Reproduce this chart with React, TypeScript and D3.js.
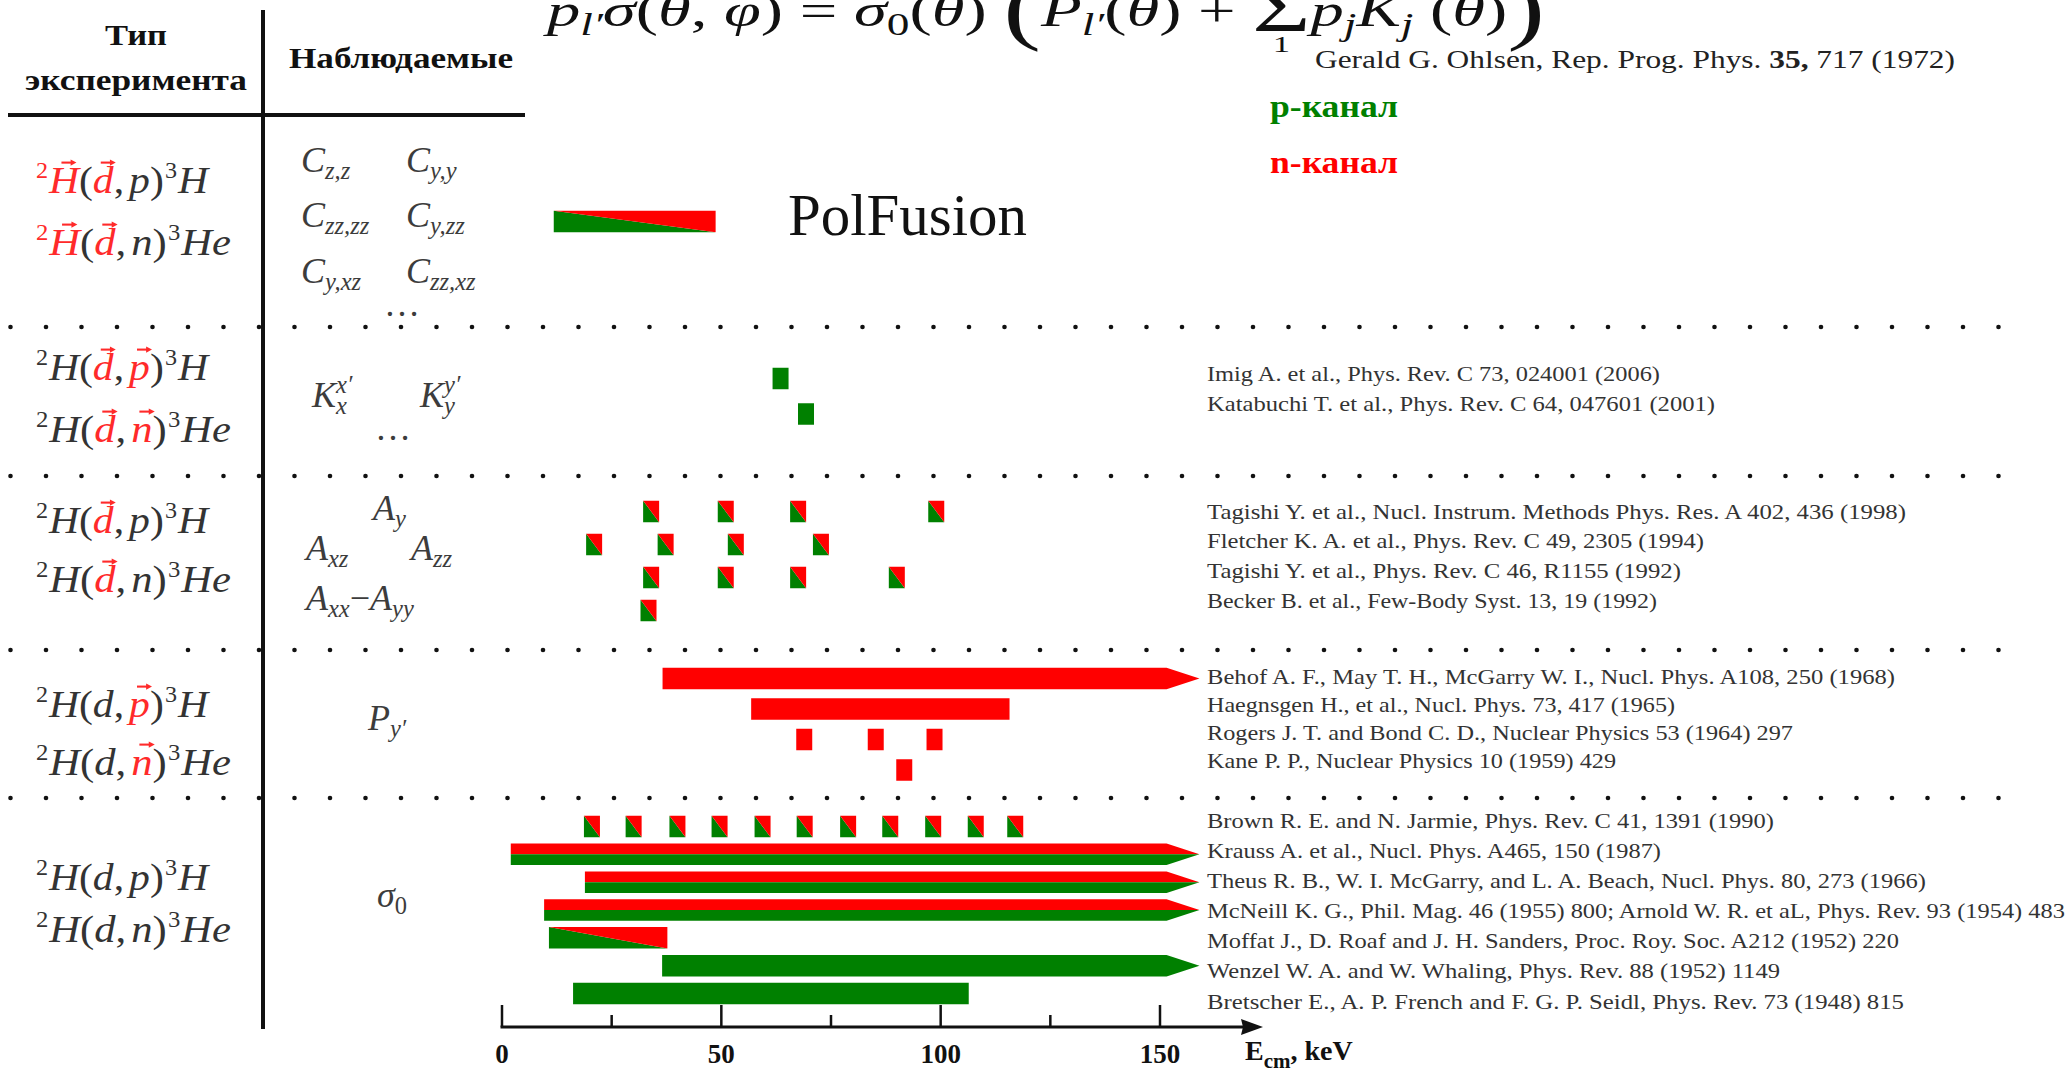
import React, { useEffect, useRef } from "react";
import * as d3 from "d3";

const W = 2068;
const H = 1068;
const SERIF = "'Liberation Serif', 'Times New Roman', Times, serif";
const GREEN = "#008000";
const RED = "#ff0000";
const INK = "#111111";
const GREY = "#333333";
const F_RED = "#ff2a2a";

// ---------------- data ----------------
const AXIS_MAJOR_TICKS = [0, 50, 100, 150];
const AXIS_MINOR_TICKS = [25, 75, 125];

const REFS_K = [
  "Imig A. et al., Phys. Rev. C 73, 024001 (2006)",
  "Katabuchi T. et al., Phys. Rev. C 64, 047601 (2001)",
];
const REFS_A = [
  "Tagishi Y. et al., Nucl. Instrum. Methods Phys. Res. A 402, 436 (1998)",
  "Fletcher K. A. et al., Phys. Rev. C 49, 2305 (1994)",
  "Tagishi Y. et al., Phys. Rev. C 46, R1155 (1992)",
  "Becker B. et al., Few-Body Syst. 13, 19 (1992)",
];
const REFS_P = [
  "Behof A. F., May T. H., McGarry W. I., Nucl. Phys. A108, 250 (1968)",
  "Haegnsgen H., et al., Nucl. Phys. 73, 417 (1965)",
  "Rogers J. T. and Bond C. D., Nuclear Physics 53 (1964) 297",
  "Kane P. P., Nuclear Physics 10 (1959) 429",
];
const REFS_S = [
  "Brown R. E. and N. Jarmie, Phys. Rev. C 41, 1391 (1990)",
  "Krauss A. et al., Nucl. Phys. A465, 150 (1987)",
  "Theus R. B., W. I. McGarry, and L. A. Beach, Nucl. Phys. 80, 273 (1966)",
  "McNeill K. G., Phil. Mag. 46 (1955) 800; Arnold W. R. et aL, Phys. Rev. 93 (1954) 483",
  "Moffat J., D. Roaf and J. H. Sanders, Proc. Roy. Soc. A212 (1952) 220",
  "Wenzel W. A. and W. Whaling, Phys. Rev. 88 (1952) 1149",
  "Bretscher E., A. P. French and F. G. P. Seidl, Phys. Rev. 73 (1948) 815",
];

// channel: "p" = p-channel (green), "n" = n-channel (red),
// "diag" = both channels (diagonal split), "stack" = both channels (two halves)
const POINT_MEASUREMENTS = [
  { ref: REFS_K[0], channel: "p", energies: [63.5] },
  { ref: REFS_K[1], channel: "p", energies: [69.3] },
  { ref: REFS_A[0], channel: "diag", energies: [34, 51, 67.5, 99] },
  { ref: REFS_A[1], channel: "diag", energies: [21, 37.3, 53.3, 72.7] },
  { ref: REFS_A[2], channel: "diag", energies: [34, 51, 67.5, 90] },
  { ref: REFS_A[3], channel: "diag", energies: [33.4] },
  { ref: REFS_P[2], channel: "n", energies: [68.9, 85.2, 98.6] },
  { ref: REFS_P[3], channel: "n", energies: [91.7] },
  { ref: REFS_S[0], channel: "diag", energies: [20.5, 30, 40, 49.6, 59.4, 69, 78.9, 88.5, 98.3, 108, 117] },
];

// to === null: range continues beyond the axis (drawn as arrow)
const RANGE_MEASUREMENTS = [
  { ref: REFS_P[0], channel: "n", from: 36.6, to: null },
  { ref: REFS_P[1], channel: "n", from: 56.8, to: 115.7 },
  { ref: REFS_S[1], channel: "stack", from: 2.0, to: null },
  { ref: REFS_S[2], channel: "stack", from: 18.9, to: null },
  { ref: REFS_S[3], channel: "stack", from: 9.6, to: null },
  { ref: REFS_S[4], channel: "diag", from: 10.7, to: 37.7 },
  { ref: REFS_S[5], channel: "p", from: 36.5, to: null },
  { ref: REFS_S[6], channel: "p", from: 16.2, to: 106.4 },
];

const POLFUSION = { label: "PolFusion", channel: "diag", from: 11.8, to: 48.7 };
const OPEN_END_KEV = 151.5;
const ARROW_TIP_KEV = 159;

// ---------------- layout ----------------
const SECTIONS = [
  { refs: REFS_K, bars: [378.5, 414], text: [375, 405] },
  { refs: REFS_A, bars: [511.5, 610.5], text: [513, 602] },
  { refs: REFS_P, bars: [678.5, 770], text: [678, 762] },
  { refs: REFS_S, bars: [826.5, 993.5], text: [822, 1003] },
];
const REF_WIDTHS = [453, 508, 699, 497, 474, 450, 688, 468, 586, 409, 567, 454, 719, 858, 692, 573, 697];
const SEPARATORS_Y = [327, 476, 650, 798];
const BAR_H = 21.5;
const POINT_W = 16;

type Seg = {
  t: string; it?: boolean; red?: boolean; vec?: boolean; sup?: boolean; sub?: boolean;
  hold?: boolean; scale?: number; dy?: number; gap?: number;
};

function reaction(targetVec: boolean, beamVec: boolean, eject: "p" | "n", ejectVec: boolean, redTarget: boolean): Seg[] {
  return [
    { t: "2", sup: true, red: redTarget, scale: 0.58 },
    { t: "H", it: true, red: redTarget, vec: targetVec, gap: 0.02 },
    { t: "(" },
    { t: "d", it: true, red: beamVec, vec: beamVec },
    { t: "," },
    { t: eject, it: true, red: ejectVec, vec: ejectVec, gap: 0.12 },
    { t: ")" },
    { t: "3", sup: true, scale: 0.58, gap: 0.03 },
    { t: eject === "p" ? "H" : "He", it: true, gap: 0.02 },
  ];
}

const LEFT_FORMULAS = [
  { y: [193, 255], lines: [reaction(true, true, "p", false, true), reaction(true, true, "n", false, true)] },
  { y: [380, 442], lines: [reaction(false, true, "p", true, false), reaction(false, true, "n", true, false)] },
  { y: [533, 592], lines: [reaction(false, true, "p", false, false), reaction(false, true, "n", false, false)] },
  { y: [717, 775], lines: [reaction(false, false, "p", true, false), reaction(false, false, "n", true, false)] },
  { y: [890, 942], lines: [reaction(false, false, "p", false, false), reaction(false, false, "n", false, false)] },
];
const LEFT_WIDTHS = [172, 195];

const C = (sub: string): Seg[] => [{ t: "C", it: true }, { t: sub, it: true, sub: true }];
const OBSERVABLES: { x: number; y: number; segs: Seg[] }[] = [
  { x: 301, y: 172, segs: C("z,z") },
  { x: 406, y: 172, segs: C("y,y") },
  { x: 301, y: 227, segs: C("zz,zz") },
  { x: 406, y: 227, segs: C("y,zz") },
  { x: 301, y: 283, segs: C("y,xz") },
  { x: 406, y: 283, segs: C("zz,xz") },
  { x: 384, y: 316, segs: [{ t: "…" }] },
  { x: 312, y: 407, segs: [{ t: "K", it: true }, { t: "x′", it: true, sup: true, hold: true }, { t: "x", it: true, sub: true }] },
  { x: 420, y: 407, segs: [{ t: "K", it: true }, { t: "y′", it: true, sup: true, hold: true }, { t: "y", it: true, sub: true }] },
  { x: 375, y: 440, segs: [{ t: "…" }] },
  { x: 373, y: 520, segs: [{ t: "A", it: true }, { t: "y", it: true, sub: true }] },
  { x: 306, y: 560, segs: [{ t: "A", it: true }, { t: "xz", it: true, sub: true }] },
  { x: 411, y: 560, segs: [{ t: "A", it: true }, { t: "zz", it: true, sub: true }] },
  { x: 306, y: 610, segs: [{ t: "A", it: true }, { t: "xx", it: true, sub: true }, { t: "−" }, { t: "A", it: true }, { t: "yy", it: true, sub: true }] },
  { x: 368, y: 730, segs: [{ t: "P", it: true }, { t: "y′", it: true, sub: true }] },
  { x: 377, y: 907, segs: [{ t: "σ", it: true }, { t: "0", sub: true }] },
];

const TOP_FORMULA: Seg[] = [
  { t: "p", it: true }, { t: "l′", it: true, sub: true },
  { t: "σ", it: true }, { t: "(" }, { t: "θ", it: true }, { t: ", " }, { t: "φ", it: true }, { t: ")" },
  { t: " = " },
  { t: "σ", it: true }, { t: "0", sub: true }, { t: "(" }, { t: "θ", it: true }, { t: ")" },
  { t: " " },
  { t: "(", scale: 1.7, dy: 0.2 },
  { t: "P", it: true }, { t: "l′", it: true, sub: true }, { t: "(" }, { t: "θ", it: true }, { t: ")" },
  { t: " + " },
  { t: "Σ", scale: 1.5, dy: 0.1 },
  { t: "p", it: true }, { t: "j", it: true, sub: true },
  { t: "K", it: true }, { t: "j", it: true, sub: true },
  { t: " (" }, { t: "θ", it: true }, { t: ")" },
  { t: ")", scale: 1.7, dy: 0.2 },
];

type Sel = d3.Selection<any, unknown, null, undefined>;

function drawVec(g: Sel, xc: number, y: number, fs: number, color: string) {
  const L = 0.36 * fs;
  const hw = 0.08 * fs;
  const hl = 0.14 * fs;
  g.append("line")
    .attr("x1", xc - L / 2).attr("x2", xc + L / 2 - hl * 0.6)
    .attr("y1", y).attr("y2", y)
    .attr("stroke", color).attr("stroke-width", 0.055 * fs);
  g.append("path")
    .attr("d", `M${xc + L / 2},${y} L${xc + L / 2 - hl},${y - hw} L${xc + L / 2 - hl},${y + hw} Z`)
    .attr("fill", color);
}

function drawMath(parent: Sel, x0: number, y0: number, segs: Seg[], fs: number,
  opt: { color: string; red?: string; width?: number; weight?: string }) {
  const g = parent.append("g");
  let cx = x0;
  let held = 0;
  const pos: { x: number; w: number }[] = [];
  segs.forEach((s) => {
    const small = s.sup || s.sub;
    const size = fs * (small ? (s.scale ?? 0.68) : s.scale ?? 1);
    const off = s.sup ? -0.4 * fs : s.sub ? 0.2 * fs : (s.dy ?? 0) * fs;
    const x = cx + (s.gap ?? 0) * fs;
    const fill = s.red ? opt.red ?? opt.color : opt.color;
    const t = g.append("text")
      .attr("x", x).attr("y", y0 + off)
      .attr("font-family", SERIF)
      .attr("font-size", size)
      .attr("font-style", s.it ? "italic" : "normal")
      .attr("font-weight", opt.weight ?? "normal")
      .attr("fill", fill)
      .style("white-space", "pre")
      .text(s.t);
    const w = (t.node() as SVGTextElement).getComputedTextLength();
    pos.push({ x, w });
    if (s.vec) drawVec(g, x + w * 0.5 + 0.12 * fs, y0 - 0.8 * fs, fs, fill);
    if (s.hold) {
      held = Math.max(held, x + w);
    } else {
      cx = Math.max(x + w, held);
      held = 0;
    }
  });
  if (opt.width) {
    const k = opt.width / (cx - x0);
    g.attr("transform", `translate(${x0},0) scale(${k},1) translate(${-x0},0)`);
  }
  return { g, pos, end: cx };
}

function drawChart(svgEl: SVGSVGElement) {
  const svg = d3.select(svgEl);
  svg.selectAll("*").remove();
  svg.append("rect").attr("width", W).attr("height", H).attr("fill", "#fff");

  const x = d3.scaleLinear().domain([0, 150]).range([502, 1160]);

  // ---------- table frame ----------
  svg.append("line").attr("x1", 263).attr("x2", 263).attr("y1", 10).attr("y2", 1029)
    .attr("stroke", INK).attr("stroke-width", 4);
  svg.append("line").attr("x1", 8).attr("x2", 525).attr("y1", 115).attr("y2", 115)
    .attr("stroke", INK).attr("stroke-width", 4);

  const hdr = (t: string, cx: number, y: number, w: number) =>
    svg.append("text").attr("x", cx - w / 2).attr("y", y)
      .attr("font-family", SERIF).attr("font-weight", "bold").attr("font-size", 30)
      .attr("fill", INK).attr("textLength", w).attr("lengthAdjust", "spacingAndGlyphs").text(t);
  hdr("Тип", 136, 45, 62);
  hdr("эксперимента", 136, 90, 222);
  hdr("Наблюдаемые", 401, 68, 224);

  // ---------- dotted separators ----------
  const dotsX = d3.range(10.5, 2005, 35.5);
  SEPARATORS_Y.forEach((yy) => {
    svg.append("g").selectAll("circle").data(dotsX).join("circle")
      .attr("cx", (d) => d).attr("cy", yy).attr("r", 2.3).attr("fill", INK);
  });

  // ---------- top formula ----------
  const tf = drawMath(svg, 547, 26, TOP_FORMULA, 46, { color: INK, width: 998 });
  const sigmaIdx = TOP_FORMULA.findIndex((s) => s.t === "Σ");
  const sp = tf.pos[sigmaIdx];
  tf.g.append("text").attr("x", sp.x + sp.w / 2).attr("y", 52).attr("text-anchor", "middle")
    .attr("font-family", SERIF).attr("font-size", 24).attr("fill", INK).text("1");

  const ref = svg.append("text").attr("x", 1315).attr("y", 68)
    .attr("font-family", SERIF).attr("font-size", 26).attr("fill", "#222")
    .attr("textLength", 640).attr("lengthAdjust", "spacingAndGlyphs");
  ref.append("tspan").text("Gerald G. Ohlsen, Rep. Prog. Phys. ");
  ref.append("tspan").attr("font-weight", "bold").text("35,");
  ref.append("tspan").text(" 717 (1972)");

  svg.append("text").attr("x", 1270).attr("y", 117).attr("font-family", SERIF).attr("font-weight", "bold")
    .attr("font-size", 31).attr("fill", GREEN).attr("textLength", 128).attr("lengthAdjust", "spacingAndGlyphs")
    .text("p-канал");
  svg.append("text").attr("x", 1270).attr("y", 173).attr("font-family", SERIF).attr("font-weight", "bold")
    .attr("font-size", 31).attr("fill", RED).attr("textLength", 128).attr("lengthAdjust", "spacingAndGlyphs")
    .text("n-канал");

  // ---------- left formulas ----------
  LEFT_FORMULAS.forEach((sec) => {
    sec.lines.forEach((segs, i) => {
      drawMath(svg, 36, sec.y[i], segs, 38, { color: GREY, red: F_RED, width: LEFT_WIDTHS[i] });
    });
  });
  OBSERVABLES.forEach((o) => drawMath(svg, o.x, o.y, o.segs, 36, { color: "#3c3c3c" }));

  // ---------- marks ----------
  const barY = new Map<string, number>();
  const textY = new Map<string, number>();
  SECTIONS.forEach((s) => {
    const yb = d3.scalePoint<string>().domain(s.refs).range(s.bars as [number, number]);
    const yt = d3.scalePoint<string>().domain(s.refs).range(s.text as [number, number]);
    s.refs.forEach((r) => { barY.set(r, yb(r)!); textY.set(r, yt(r)!); });
  });

  const marks = svg.append("g");
  const poly = (pts: number[][], fill: string) =>
    marks.append("path").attr("d", "M" + pts.map((p) => p.join(",")).join("L") + "Z").attr("fill", fill);

  function drawSpan(x0: number, x1: number, cy: number, channel: string, open: boolean) {
    const top = cy - BAR_H / 2;
    const bot = cy + BAR_H / 2;
    const tip = x(ARROW_TIP_KEV);
    if (channel === "p" || channel === "n") {
      const col = channel === "p" ? GREEN : RED;
      if (open) poly([[x0, top], [x1, top], [tip, cy], [x1, bot], [x0, bot]], col);
      else poly([[x0, top], [x1, top], [x1, bot], [x0, bot]], col);
    } else if (channel === "stack") {
      if (open) {
        poly([[x0, top], [x1, top], [tip, cy], [x0, cy]], RED);
        poly([[x0, cy], [tip, cy], [x1, bot], [x0, bot]], GREEN);
      } else {
        poly([[x0, top], [x1, top], [x1, cy], [x0, cy]], RED);
        poly([[x0, cy], [x1, cy], [x1, bot], [x0, bot]], GREEN);
      }
    } else {
      poly([[x0, top], [x0, bot], [x1, bot]], GREEN);
      poly([[x0, top], [x1, top], [x1, bot]], RED);
    }
  }

  POINT_MEASUREMENTS.forEach((m) => {
    const cy = barY.get(m.ref)!;
    m.energies.forEach((e) => drawSpan(x(e) - POINT_W / 2, x(e) + POINT_W / 2, cy, m.channel, false));
  });
  RANGE_MEASUREMENTS.forEach((m) => {
    const cy = barY.get(m.ref)!;
    const open = m.to === null;
    drawSpan(x(m.from), x(open ? OPEN_END_KEV : (m.to as number)), cy, m.channel, open);
  });
  drawSpan(x(POLFUSION.from), x(POLFUSION.to), 221.5, POLFUSION.channel, false);
  svg.append("text").attr("x", 788).attr("y", 235).attr("font-family", SERIF).attr("font-size", 59)
    .attr("fill", INK).attr("textLength", 239).attr("lengthAdjust", "spacingAndGlyphs").text(POLFUSION.label);

  // ---------- references ----------
  const allRefs = [...REFS_K, ...REFS_A, ...REFS_P, ...REFS_S];
  svg.append("g").selectAll("text").data(allRefs).join("text")
    .attr("x", 1207).attr("y", (d) => textY.get(d)! + 5.5)
    .attr("font-family", SERIF).attr("font-size", 22).attr("fill", GREY)
    .attr("textLength", (d, i) => REF_WIDTHS[i]).attr("lengthAdjust", "spacingAndGlyphs")
    .text((d) => d);

  // ---------- energy axis ----------
  const ax = svg.append("g");
  const axisY = 1027;
  ax.append("line").attr("x1", x(0) - 1.5).attr("x2", 1248).attr("y1", axisY).attr("y2", axisY)
    .attr("stroke", INK).attr("stroke-width", 3);
  ax.append("path").attr("d", `M1263,${axisY} L1241,${axisY - 8} L1243,${axisY} L1241,${axisY + 8} Z`).attr("fill", INK);
  ax.selectAll("line.maj").data(AXIS_MAJOR_TICKS).join("line").attr("class", "maj")
    .attr("x1", (d) => x(d)).attr("x2", (d) => x(d)).attr("y1", 1005).attr("y2", axisY)
    .attr("stroke", INK).attr("stroke-width", 2.5);
  ax.selectAll("line.min").data(AXIS_MINOR_TICKS).join("line").attr("class", "min")
    .attr("x1", (d) => x(d)).attr("x2", (d) => x(d)).attr("y1", 1015).attr("y2", axisY)
    .attr("stroke", INK).attr("stroke-width", 2.5);
  ax.selectAll("text.tl").data(AXIS_MAJOR_TICKS).join("text").attr("class", "tl")
    .attr("x", (d) => x(d)).attr("y", 1063).attr("text-anchor", "middle")
    .attr("font-family", SERIF).attr("font-weight", "bold").attr("font-size", 27).attr("fill", INK)
    .text((d) => String(d));
  const title = ax.append("text").attr("x", 1245).attr("y", 1060)
    .attr("font-family", SERIF).attr("font-weight", "bold").attr("font-size", 28).attr("fill", INK);
  title.append("tspan").text("E");
  title.append("tspan").attr("dy", 8).attr("font-size", 21).text("cm");
  title.append("tspan").attr("dy", -8).text(", keV");
}

export default function App() {
  const ref = useRef<SVGSVGElement>(null);
  useEffect(() => {
    document.body.style.margin = "0";
    const render = () => { if (ref.current) drawChart(ref.current); };
    render();
    const f = (document as any).fonts;
    if (f && f.ready) f.ready.then(render);
  }, []);
  return <svg ref={ref} width={W} height={H} style={{ display: "block", background: "#fff" }} />;
}
